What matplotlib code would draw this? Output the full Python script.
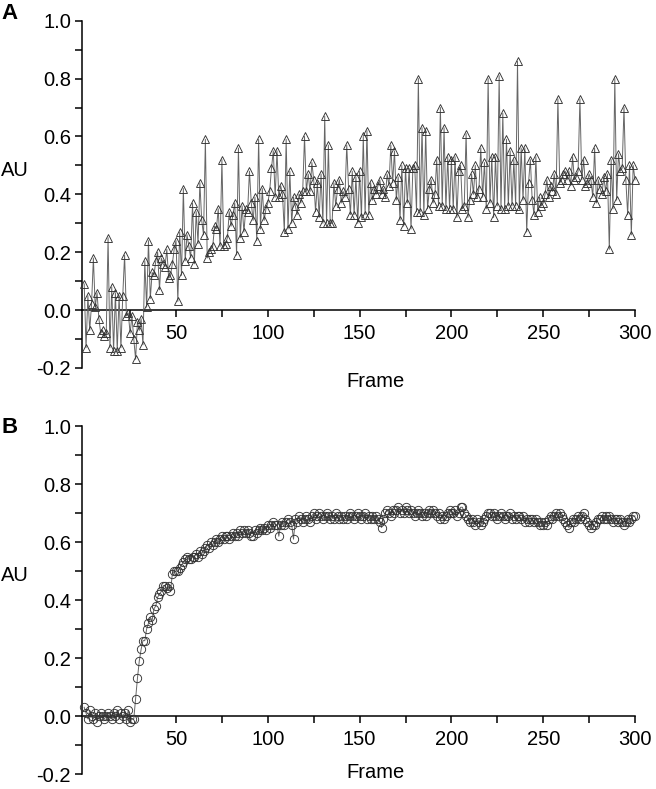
"""Two stacked intensity traces (AU vs frame): noisy triangle trace (A) and smooth circle trace (B)."""
import matplotlib
matplotlib.use("Agg")
import matplotlib.pyplot as plt
from matplotlib.ticker import FixedLocator, MultipleLocator

plt.rcParams["font.family"] = ["Liberation Sans", "DejaVu Sans"]

# panel A, frames 0..300, one row per ten frames
TRACE_A = [
    0.09, -0.13, 0.05, -0.07, 0.02, 0.18, 0.01, 0.06, -0.03, -0.08, -0.07,
    -0.09, -0.08, 0.25, -0.13, 0.08, -0.14, 0.06, -0.14, 0.05, -0.13,
    0.05, 0.19, -0.02, -0.01, -0.08, -0.02, -0.10, -0.17, -0.04, -0.07,
    -0.03, -0.12, 0.17, 0.01, 0.24, 0.04, 0.13, 0.12, 0.17, 0.20,
    0.07, 0.18, 0.16, 0.15, 0.21, 0.11, 0.12, 0.16, 0.21, 0.24,
    0.03, 0.27, 0.12, 0.42, 0.17, 0.26, 0.22, 0.18, 0.37, 0.16,
    0.34, 0.23, 0.44, 0.31, 0.26, 0.59, 0.18, 0.20, 0.21, 0.22,
    0.29, 0.28, 0.35, 0.22, 0.52, 0.22, 0.23, 0.25, 0.34, 0.29,
    0.33, 0.37, 0.19, 0.56, 0.25, 0.36, 0.27, 0.35, 0.34, 0.48,
    0.37, 0.31, 0.39, 0.24, 0.59, 0.28, 0.42, 0.31, 0.35, 0.37,
    0.41, 0.49, 0.55, 0.39, 0.55, 0.39, 0.43, 0.40, 0.27, 0.59,
    0.28, 0.48, 0.30, 0.39, 0.36, 0.33, 0.40, 0.37, 0.41, 0.60,
    0.41, 0.47, 0.41, 0.51, 0.45, 0.34, 0.44, 0.32, 0.47, 0.30,
    0.67, 0.30, 0.57, 0.30, 0.30, 0.44, 0.36, 0.42, 0.45, 0.37,
    0.41, 0.39, 0.57, 0.42, 0.33, 0.48, 0.33, 0.46, 0.30, 0.48,
    0.32, 0.60, 0.33, 0.62, 0.33, 0.44, 0.38, 0.42, 0.40, 0.43,
    0.45, 0.40, 0.42, 0.39, 0.47, 0.43, 0.57, 0.44, 0.55, 0.38,
    0.46, 0.31, 0.50, 0.29, 0.49, 0.37, 0.49, 0.28, 0.49, 0.50,
    0.34, 0.80, 0.34, 0.63, 0.33, 0.62, 0.35, 0.42, 0.45, 0.37,
    0.40, 0.52, 0.36, 0.70, 0.36, 0.63, 0.35, 0.53, 0.35, 0.52,
    0.35, 0.53, 0.32, 0.48, 0.50, 0.35, 0.36, 0.61, 0.32, 0.38,
    0.47, 0.40, 0.50, 0.39, 0.42, 0.56, 0.39, 0.51, 0.35, 0.80,
    0.37, 0.53, 0.32, 0.53, 0.36, 0.81, 0.35, 0.68, 0.35, 0.59,
    0.36, 0.55, 0.36, 0.52, 0.36, 0.86, 0.35, 0.56, 0.38, 0.56,
    0.27, 0.44, 0.52, 0.38, 0.33, 0.53, 0.34, 0.39, 0.36, 0.37,
    0.40, 0.45, 0.39, 0.43, 0.41, 0.47, 0.40, 0.73, 0.44, 0.45,
    0.47, 0.48, 0.45, 0.48, 0.43, 0.53, 0.45, 0.46, 0.48, 0.73,
    0.45, 0.52, 0.43, 0.44, 0.47, 0.45, 0.39, 0.56, 0.37, 0.45,
    0.42, 0.40, 0.46, 0.41, 0.47, 0.21, 0.52, 0.35, 0.80, 0.38,
    0.54, 0.48, 0.49, 0.70, 0.45, 0.33, 0.50, 0.26, 0.50, 0.45,
]

# panel B, frames 0..300
TRACE_B = [
    0.03, 0.01, -0.01, 0.02, 0.00, -0.01, 0.01, -0.02, 0.00, 0.01, 0.00,
    -0.01, 0.00, 0.01, 0.00, -0.01, 0.01, 0.00, 0.02, -0.01, 0.01,
    0.00, 0.01, -0.01, 0.02, -0.02, -0.01, -0.01, 0.06, 0.13, 0.19,
    0.23, 0.26, 0.26, 0.30, 0.32, 0.34, 0.33, 0.37, 0.38, 0.41,
    0.42, 0.43, 0.45, 0.45, 0.44, 0.45, 0.43, 0.49, 0.50, 0.50,
    0.50, 0.51, 0.52, 0.53, 0.54, 0.55, 0.54, 0.54, 0.55, 0.55,
    0.56, 0.55, 0.57, 0.56, 0.57, 0.58, 0.59, 0.58, 0.60, 0.59,
    0.60, 0.61, 0.60, 0.61, 0.62, 0.61, 0.62, 0.62, 0.61, 0.62,
    0.63, 0.62, 0.63, 0.62, 0.64, 0.63, 0.64, 0.63, 0.64, 0.63,
    0.62, 0.62, 0.64, 0.63, 0.64, 0.65, 0.64, 0.65, 0.64, 0.66,
    0.65, 0.66, 0.67, 0.66, 0.66, 0.62, 0.66, 0.67, 0.66, 0.67,
    0.68, 0.67, 0.66, 0.61, 0.68, 0.67, 0.69, 0.68, 0.67, 0.68,
    0.69, 0.68, 0.67, 0.69, 0.70, 0.68, 0.69, 0.70, 0.69, 0.68,
    0.69, 0.70, 0.69, 0.68, 0.69, 0.68, 0.70, 0.69, 0.68, 0.69,
    0.68, 0.69, 0.68, 0.69, 0.70, 0.69, 0.68, 0.69, 0.70, 0.69,
    0.68, 0.69, 0.70, 0.68, 0.69, 0.68, 0.69, 0.68, 0.69, 0.68,
    0.67, 0.65, 0.68, 0.70, 0.71, 0.70, 0.69, 0.71, 0.70, 0.71,
    0.72, 0.70, 0.71, 0.70, 0.72, 0.71, 0.70, 0.71, 0.70, 0.69,
    0.70, 0.71, 0.70, 0.69, 0.70, 0.69, 0.70, 0.71, 0.70, 0.71,
    0.70, 0.69, 0.70, 0.68, 0.69, 0.68, 0.69, 0.70, 0.71, 0.70,
    0.70, 0.71, 0.69, 0.70, 0.72, 0.72, 0.70, 0.69, 0.68, 0.67,
    0.68, 0.67, 0.66, 0.68, 0.67, 0.66, 0.67, 0.68, 0.69, 0.70,
    0.70, 0.69, 0.70, 0.69, 0.68, 0.69, 0.70, 0.69, 0.68, 0.69,
    0.69, 0.70, 0.68, 0.69, 0.68, 0.69, 0.69, 0.68, 0.69, 0.67,
    0.68, 0.67, 0.68, 0.68, 0.67, 0.68, 0.67, 0.66, 0.67, 0.66,
    0.67, 0.66, 0.68, 0.69, 0.68, 0.69, 0.70, 0.69, 0.70, 0.69,
    0.68, 0.67, 0.66, 0.65, 0.67, 0.68, 0.67, 0.68, 0.69, 0.68,
    0.69, 0.70, 0.68, 0.67, 0.66, 0.65, 0.66, 0.66, 0.67, 0.68,
    0.68, 0.69, 0.68, 0.69, 0.68, 0.69, 0.68, 0.67, 0.68, 0.68,
    0.67, 0.68, 0.67, 0.66, 0.67, 0.68, 0.67, 0.68, 0.69, 0.69,
]

X_MAJOR = [50, 100, 150, 200, 250, 300]
X_MINOR = [25, 75, 125, 175, 225, 275]
FS = 14.5


def _panel(ax, values, marker, ms, letter, frame_y, letter_y):
    frames = list(range(len(values)))
    ax.plot(frames, values, color="#666666", lw=0.7, marker=marker, ms=ms,
            mfc="none", mec="#333333", mew=0.65, zorder=3, clip_on=False)
    ax.set_xlim(-1.2, 300)
    ax.set_ylim(-0.2, 1.0)
    for side in ("top", "right"):
        ax.spines[side].set_visible(False)
    ax.spines["bottom"].set_position(("data", 0))
    ax.spines["left"].set_linewidth(1.1)
    ax.spines["bottom"].set_linewidth(1.1)

    ax.xaxis.set_major_locator(FixedLocator(X_MAJOR))
    ax.xaxis.set_minor_locator(FixedLocator(X_MINOR))
    ax.yaxis.set_major_locator(MultipleLocator(0.2))
    ax.yaxis.set_minor_locator(MultipleLocator(0.1))
    ax.set_yticklabels([f"{v:.1f}" for v in ax.get_yticks()])
    ax.tick_params(which="both", direction="out", length=5, width=1.1, labelsize=FS)
    ax.tick_params(axis="x", which="both", pad=5)
    ax.tick_params(axis="y", which="both", pad=3)

    ax.text(-0.147, 0.57, "AU", transform=ax.transAxes, fontsize=FS, ha="left", va="center")
    ax.text(0.53, frame_y, "Frame", transform=ax.transAxes, fontsize=FS, ha="center", va="center")
    ax.text(-0.145, letter_y, letter, transform=ax.transAxes, fontsize=16,
            fontweight="bold", ha="left", va="center")


def main():
    fig = plt.figure(figsize=(6.56, 7.89), dpi=100)
    ax_a = fig.add_axes([0.125, 0.5336, 0.843, 0.4402])
    ax_b = fig.add_axes([0.125, 0.019, 0.843, 0.441])
    _panel(ax_a, TRACE_A, "^", 5.8, "A", -0.04, 1.02)
    _panel(ax_b, TRACE_B, "o", 6.0, "B", 0.005, 0.995)
    fig.savefig("out.png", dpi=100)


if __name__ == "__main__":
    main()
